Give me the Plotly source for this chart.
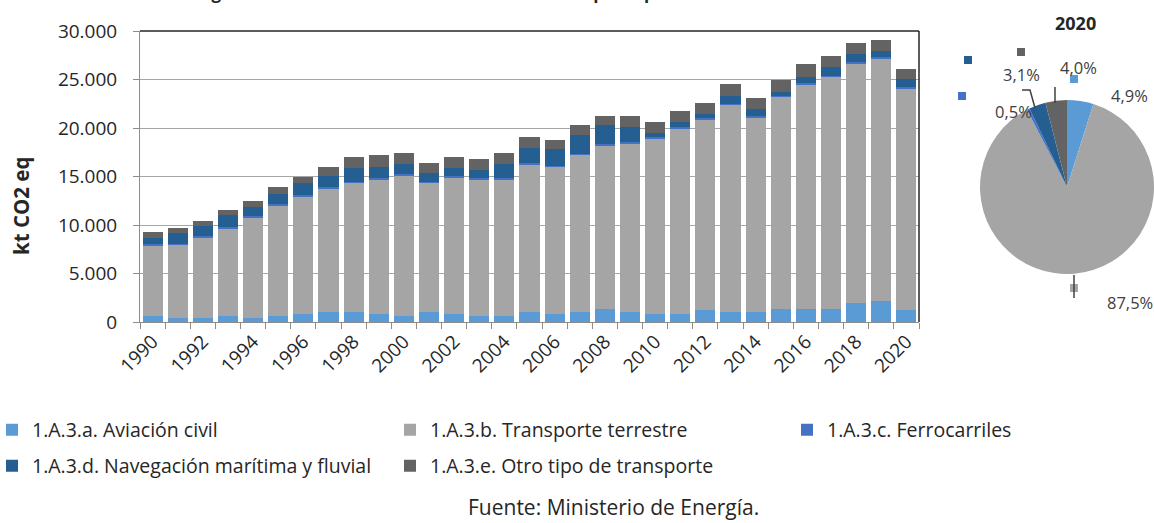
import plotly.graph_objects as go

# ---------------- data ----------------
years = list(range(1990, 2021))
series_names = [
    "1.A.3.a. Aviación civil",
    "1.A.3.b. Transporte terrestre",
    "1.A.3.c. Ferrocarriles",
    "1.A.3.d. Navegación marítima y fluvial",
    "1.A.3.e. Otro tipo de transporte",
]
aviacion = [640, 450, 450, 640, 450, 640, 800, 1030, 1030, 870, 640, 1030, 870, 640, 640,
            1030, 800, 1030, 1380, 1030, 800, 800, 1210, 1030, 1030, 1380, 1380, 1380, 1960, 2170, 1280]
terrestre = [7275, 7500, 8260, 9030, 10355, 11370, 12140, 12740, 13315, 13860, 14470, 13315, 14030, 14090, 14090,
             15210, 15200, 16200, 16820, 17380, 18160, 19120, 19680, 21360, 20060, 21840, 23150, 23900, 24710, 25010, 22790]
ferrocarriles = [110, 110, 110, 110, 110, 110, 110, 110, 120, 120, 120, 120, 120, 120, 120,
                 130, 130, 130, 130, 130, 150, 140, 130, 130, 130, 130, 130, 130, 130, 130, 130]
navegacion = [685, 1070, 1060, 1230, 890, 1030, 1230, 1190, 1370, 1150, 1020, 850, 810, 810, 1400,
              1580, 1670, 1930, 1930, 1520, 400, 580, 420, 800, 760, 390, 620, 840, 800, 650, 810]
otro = [580, 530, 560, 570, 720, 720, 700, 930, 1135, 1175, 1135, 1095, 1135, 1135, 1135,
        1135, 960, 970, 960, 1165, 1135, 1135, 1165, 1175, 1135, 1205, 1310, 1130, 1135, 1140, 1040]
colors = ["#5B9BD5", "#A5A5A5", "#4472C4", "#255E91", "#636363"]
legend_of_series = ["legend", "legend", "legend3", "legend2", "legend2"]
pie_year_label = "2020"
x_tick_years = years[::2]
x_tick_text = [str(y) for y in x_tick_years]
y_title = "kt CO2 eq"
source_text = "Fuente: Ministerio de Energía."
title_text = "Figura 11: Emisiones de GEI del subsector transporte para la serie 1990-2020"

all_series = [aviacion, terrestre, ferrocarriles, navegacion, otro]

# ---------------- geometry helpers ----------------
W, H = 1154, 523
L, R, T, B = 140, 0, 31, 201
PW, PH = W - L - R, H - T - B


def px(x):
    return (x - L) / PW


def py(y):
    return (H - B - y) / PH


fig = go.Figure()
for name, vals, col, lg in zip(series_names, all_series, colors, legend_of_series):
    fig.add_trace(go.Bar(
        x=years, y=vals, name=name, marker=dict(color=col, line=dict(width=0)), legend=lg,
    ))

pie_vals = [s[-1] for s in all_series]
fig.add_trace(go.Pie(
    values=pie_vals, labels=series_names, sort=False, direction="clockwise", rotation=0,
    marker=dict(colors=colors, line=dict(width=0)), textinfo="none", showlegend=False,
    domain=dict(x=[px(980), 1.0], y=[py(274), py(100)]),
))

# pie labels (percentages computed from the data)
tot = sum(pie_vals)
pct_text = [f"{v / tot * 100:.1f}".replace(".", ",") + "%" for v in pie_vals]
label_pos = [(1129, 95), (1130, 302), (1013, 111), (1021, 74), (1078, 67)]
key_pos = [(1074, 79), (1074, 288), (962, 96), (968, 60), (1021, 52)]

annotations = []
shapes = []
for t, (lx, ly) in zip(pct_text, label_pos):
    annotations.append(dict(x=px(lx), y=py(ly), xref="paper", yref="paper", text=t, showarrow=False,
                            font=dict(size=16.5, color="#404040"), xanchor="center", yanchor="middle"))
for col, (kx, ky) in zip(colors, key_pos):
    shapes.append(dict(type="rect", xref="paper", yref="paper", x0=px(kx - 4), x1=px(kx + 4),
                       y0=py(ky + 4), y1=py(ky - 4), fillcolor=col, line=dict(width=0)))
# leader lines
shapes.append(dict(type="line", xref="paper", yref="paper", x0=px(1055), x1=px(1055), y0=py(87), y1=py(103),
                   line=dict(color="#404040", width=1.5)))
shapes.append(dict(type="path", xref="paper", yref="paper",
                   path=f"M {px(1022)},{py(90)} L {px(1030)},{py(90)} L {px(1035)},{py(108)}",
                   line=dict(color="#404040", width=1.5)))
shapes.append(dict(type="line", xref="paper", yref="paper", x0=px(1074), x1=px(1074), y0=py(275), y1=py(298),
                   line=dict(color="#404040", width=1.5)))
# plot frame top/right (dark)
shapes.append(dict(type="line", xref="x domain", yref="y domain", x0=0, x1=1, y0=1, y1=1,
                   line=dict(color="#262626", width=1.5)))
shapes.append(dict(type="line", xref="x domain", yref="y domain", x0=1, x1=1, y0=0, y1=1,
                   line=dict(color="#262626", width=1.5)))

annotations += [
    dict(x=px(1075), y=py(23), xref="paper", yref="paper", text=f"<b>{pie_year_label}</b>", showarrow=False,
         font=dict(size=18, color="#262626"), xanchor="center", yanchor="middle"),
    dict(x=px(21), y=py(206), xref="paper", yref="paper", text=f"<b>{y_title}</b>", showarrow=False,
         textangle=-90, font=dict(size=20.5, color="#262626"), xanchor="center", yanchor="middle"),
    dict(x=px(613), y=py(507), xref="paper", yref="paper", text=source_text, showarrow=False,
         font=dict(size=21, color="#262626"), xanchor="center", yanchor="middle"),
    dict(x=px(195), y=py(6), xref="paper", yref="paper", text=f"<b>{title_text}</b>", showarrow=False,
         font=dict(size=17, color="#262626"), xanchor="left", yanchor="bottom"),
]

leg_common = dict(orientation="h", xanchor="left", yanchor="middle", entrywidth=353,
                  entrywidthmode="pixels", font=dict(size=19.5, color="#262626"),
                  bgcolor="rgba(0,0,0,0)", traceorder="normal")

fig.update_layout(
    width=W, height=H,
    margin=dict(l=L, r=R, t=T, b=B, autoexpand=False),
    barmode="stack", bargap=0.2,
    plot_bgcolor="white", paper_bgcolor="white",
    separators=",.",
    font=dict(family="Open Sans", color="#262626"),
    xaxis=dict(domain=[0, px(919)], range=[1989.5, 2020.5], tickmode="array",
               tickvals=x_tick_years, ticktext=x_tick_text, tickangle=-45, ticks="",
               showline=True, linecolor="#8C8C8C", linewidth=1, showgrid=False, zeroline=False,
               minor=dict(ticks="outside", tick0=1989.5, dtick=1, ticklen=6, tickcolor="#8C8C8C", showgrid=False),
               tickfont=dict(size=19, color="#262626")),
    yaxis=dict(range=[0, 30000], tickmode="linear", tick0=0, dtick=5000, tickformat=",d",
               showgrid=True, gridcolor="#A6A6A6", gridwidth=1, showline=True, linecolor="#8C8C8C",
               ticks="outside", ticklen=6, tickcolor="#8C8C8C", zeroline=False,
               tickfont=dict(size=19, color="#262626"), ticklabelstandoff=12),
    legend=dict(x=px(-8), y=py(430), **leg_common),
    legend3=dict(x=px(787), y=py(430), **leg_common),
    legend2=dict(x=px(-8), y=py(466), **leg_common),
    annotations=annotations,
    shapes=shapes,
)

fig.write_html("out.html", config={"displayModeBar": False},
               post_script="document.body.style.margin='0';")
